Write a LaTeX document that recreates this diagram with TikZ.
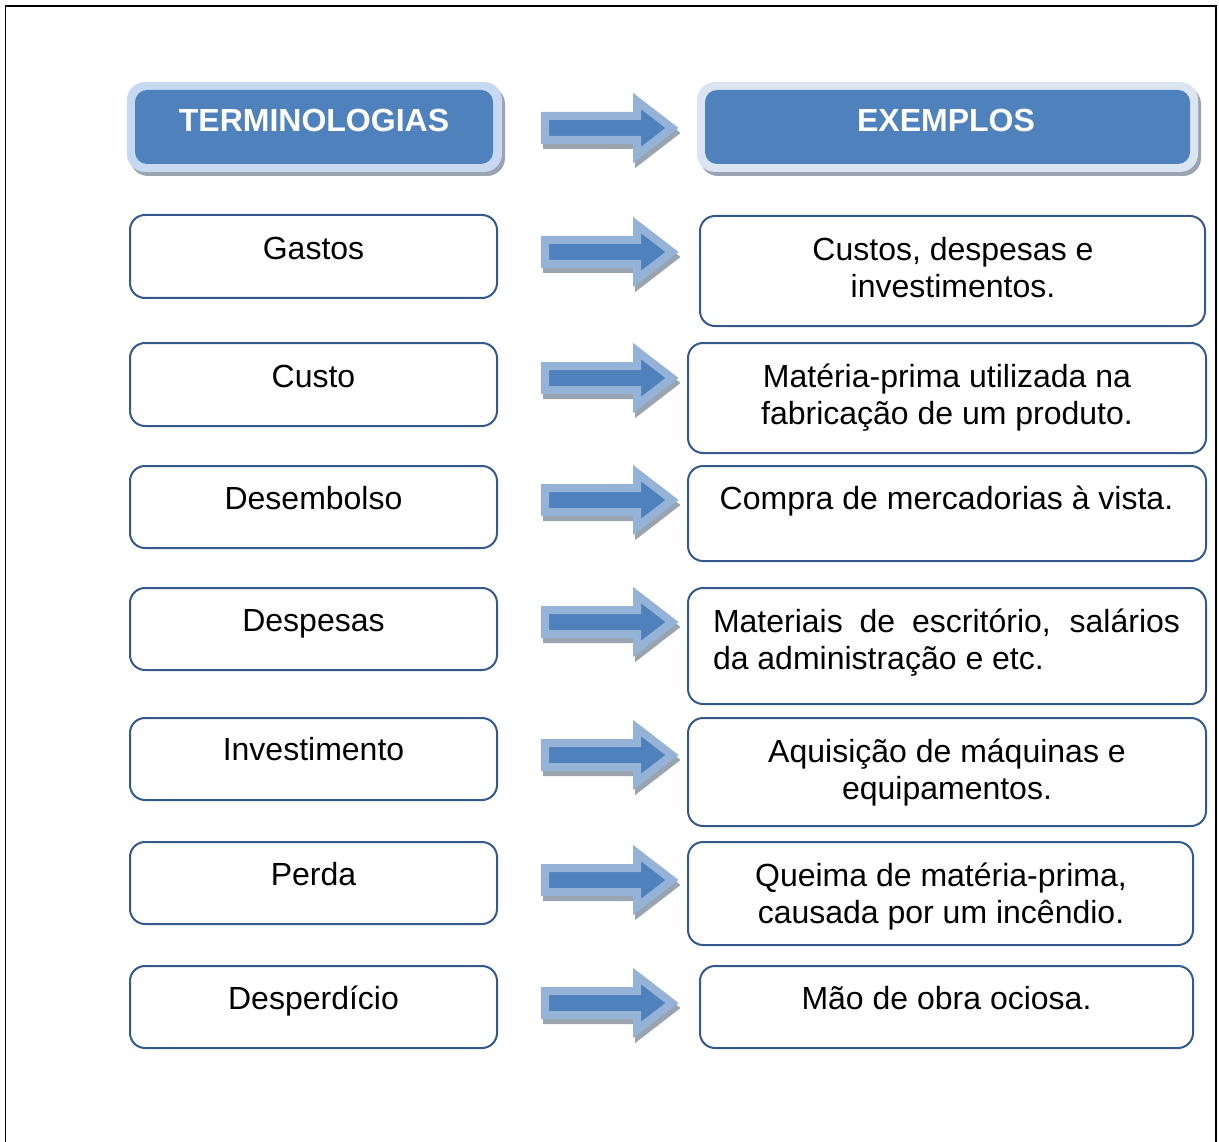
\documentclass[tikz,border=0pt]{standalone}
\usepackage{fontspec}
\setmainfont{Liberation Sans}
\definecolor{navy}{HTML}{34598C}
\definecolor{accent}{HTML}{4F81BD}
\definecolor{lightA}{HTML}{C6D9F1}
\definecolor{lightB}{HTML}{DBE5F1}
\definecolor{arrowlight}{HTML}{95B3D7}
\definecolor{shadowgray}{HTML}{9AA3B0}
\newcommand\blockarrow[1]{%
  \filldraw[fill=shadowgray, draw=shadowgray, line width=8pt, line join=miter, shift={(2,5)}]
    (545,#1-12) -- (637,#1-12) -- (637,#1-27) -- (672,#1) -- (637,#1+27) -- (637,#1+12) -- (545,#1+12) -- cycle;
  \filldraw[fill=accent, draw=arrowlight, line width=8pt, line join=miter]
    (545,#1-12) -- (637,#1-12) -- (637,#1-27) -- (672,#1) -- (637,#1+27) -- (637,#1+12) -- (545,#1+12) -- cycle;}
\begin{document}
\begin{tikzpicture}[x=1pt,y=-1pt,
  lbox/.style={draw=navy, line width=2pt, rounded corners=15pt, fill=white, inner sep=0pt},
  txt/.style={font=\fontsize{32}{37}\selectfont, anchor=base, inner sep=0pt, align=center},
  htxt/.style={font=\fontsize{32}{37}\selectfont\bfseries, text=white, anchor=base, inner sep=0pt},
  hshadow/.style={fill=shadowgray, rounded corners=18pt, inner sep=0pt},
  houter/.style={rounded corners=18pt, inner sep=0pt},
  hinner/.style={fill=accent, rounded corners=12pt, inner sep=0pt}]
\useasboundingbox (0,0) rectangle (1219,1142);
\draw[line width=1.6pt] (5.5,1150) -- (5.5,6) -- (1216,6) -- (1216,1150);

% headers
\node[hshadow, minimum width=375pt, minimum height=90pt] (ts) at (317.5,131) {};
\node[houter, fill=lightA, minimum width=375pt, minimum height=90pt] (to) at (314.5,127) {};
\node[hinner, minimum width=358pt, minimum height=74pt] (ti) at (314,127) {};
\node[htxt] (tt) at (314,131.5) {TERMINOLOGIAS};

\node[hshadow, minimum width=501pt, minimum height=90pt] (es) at (950.5,131) {};
\node[houter, fill=lightB, minimum width=501pt, minimum height=90pt] (eo) at (947.5,127) {};
\node[hinner, minimum width=485pt, minimum height=74pt] (ei) at (947.5,127) {};
\node[htxt] (et) at (946,131.5) {EXEMPLOS};

% arrows
\blockarrow{128}
\blockarrow{252}
\blockarrow{378}
\blockarrow{500}
\blockarrow{622}
\blockarrow{755}
\blockarrow{880}
\blockarrow{1003}

% left boxes
\node[lbox, minimum width=367pt, minimum height=83pt] (l1) at (313.5,256.5) {};
\node[txt] (l1t) at (313.5,260) {Gastos};
\node[lbox, minimum width=367pt, minimum height=83pt] (l2) at (313.5,384.5) {};
\node[txt] (l2t) at (313.5,387.5) {Custo};
\node[lbox, minimum width=367pt, minimum height=82pt] (l3) at (313.5,507) {};
\node[txt] (l3t) at (313.5,509.5) {Desembolso};
\node[lbox, minimum width=367pt, minimum height=82pt] (l4) at (313.5,629) {};
\node[txt] (l4t) at (313.5,631.5) {Despesas};
\node[lbox, minimum width=367pt, minimum height=82pt] (l5) at (313.5,759) {};
\node[txt] (l5t) at (313.5,760.5) {Investimento};
\node[lbox, minimum width=367pt, minimum height=82pt] (l6) at (313.5,883) {};
\node[txt] (l6t) at (313.5,885.5) {Perda};
\node[lbox, minimum width=367pt, minimum height=82pt] (l7) at (313.5,1007) {};
\node[txt] (l7t) at (313.5,1009.5) {Desperdício};

% right boxes
\node[lbox, minimum width=505pt, minimum height=110pt] (r1) at (952.5,271) {};
\node[txt] (r1t) at (953,297.5) {Custos, despesas e\\investimentos.};
\node[lbox, minimum width=518pt, minimum height=110pt] (r2) at (947,398) {};
\node[txt] (r2t) at (947,424.5) {Matéria-prima utilizada na\\fabricação de um produto.};
\node[lbox, minimum width=518pt, minimum height=95pt] (r3) at (947,513.5) {};
\node[txt] (r3t) at (946.5,509.5) {Compra de mercadorias à vista.};
\node[lbox, minimum width=518pt, minimum height=116pt] (r4) at (947,646) {};
\node[txt, text width=467pt, align=justify] (r4t) at (946.5,632) {Materiais de escritório, salários\linebreak da administração e etc.};
\node[lbox, minimum width=518pt, minimum height=108pt] (r5) at (947,772) {};
\node[txt] (r5t) at (947,799.5) {Aquisição de máquinas e\\equipamentos.};
\node[lbox, minimum width=505pt, minimum height=103pt] (r6) at (940.5,893.5) {};
\node[txt] (r6t) at (941,923.5) {Queima de matéria-prima,\\causada por um incêndio.};
\node[lbox, minimum width=493pt, minimum height=82pt] (r7) at (946.5,1007) {};
\node[txt] (r7t) at (946.5,1009.5) {Mão de obra ociosa.};
\end{tikzpicture}
\end{document}
